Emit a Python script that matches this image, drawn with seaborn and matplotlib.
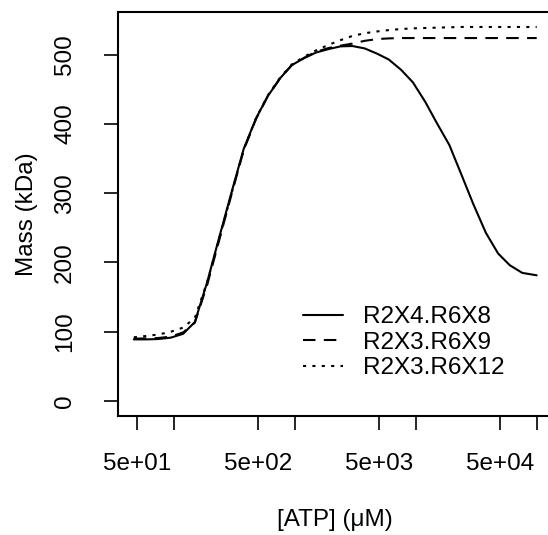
import numpy as np
import pandas as pd
import seaborn as sns
import matplotlib.pyplot as plt

# --- data ---
atp = [47, 60, 75, 95, 120, 150, 190, 240, 300, 380, 480, 600, 760, 950,
       1200, 1500, 1900, 2400, 3000, 3800, 4800, 6000, 7600, 9500, 12000,
       15000, 19000, 24000, 30000, 38000, 48000, 60000, 76000, 100000]

mass_r2x4_r6x8 = [89, 89, 89.5, 91.5, 97, 114, 172, 238, 300, 364, 408, 440,
                  466, 485, 495, 503, 508, 512, 512.5, 509, 501.5, 493, 478,
                  460, 432, 401, 369.5, 326, 284, 243, 213, 196, 185, 181.5]

mass_r2x3_r6x9 = [90, 90.5, 91, 93, 99, 113, 168, 234, 297, 362, 407, 440,
                  466, 485, 495.5, 504, 509.5, 513, 516, 520, 522.5, 523.5,
                  524, 524, 524, 524, 524, 524, 524, 524, 524, 524, 524, 524]

mass_r2x3_r6x12 = [92, 94, 96, 100, 106, 120, 172, 236, 298, 363, 408, 441,
                   467, 486, 497, 506, 514, 521, 527, 531, 533.5, 535.5, 537,
                   538, 538.5, 539, 539.5, 540, 540, 540, 540, 540, 540, 540]

series = ["R2X4.R6X8", "R2X3.R6X9", "R2X3.R6X12"]
yticks = [0, 100, 200, 300, 400, 500]
xticks = [50, 100, 500, 1000, 5000, 10000, 50000, 100000]
xticklabels = ["5e+01", "", "5e+02", "", "5e+03", "", "5e+04", ""]

df = pd.concat([
    pd.DataFrame({"atp": atp, "mass": m, "series": s})
    for s, m in zip(series, [mass_r2x4_r6x8, mass_r2x3_r6x9, mass_r2x3_r6x12])
])

sns.set_style("ticks")
plt.rcParams["font.family"] = ["Liberation Sans", "DejaVu Sans"]
plt.rcParams["text.color"] = "black"
plt.rcParams["axes.labelcolor"] = "black"

fs = 17.5

fig = plt.figure(figsize=(5.48, 5.35), dpi=100)
ax = fig.add_axes([117.7 / 548, 1 - 416 / 535, 435.1 / 548, 404 / 535])

sns.lineplot(data=df, x="atp", y="mass", style="series", style_order=series,
             dashes={series[0]: "", series[1]: (6, 4), series[2]: (1.5, 3)},
             color="black", linewidth=1.5, legend=False, ax=ax)

ax.set_xscale("log")
ax.minorticks_off()

# R-style 4% axis padding
lx0, lx1 = np.log10(min(atp)), np.log10(max(atp))
pad = 0.04 * (lx1 - lx0)
ax.set_xlim(10 ** (lx0 - pad), 10 ** (lx1 + pad))
ax.set_ylim(0 - 0.04 * 540, 540 + 0.04 * 540)

ax.set_xticks(xticks)
ax.set_xticklabels(xticklabels)
ax.set_yticks(yticks)
ax.set_yticklabels([str(v) for v in yticks], rotation=90, va="center")

ax.tick_params(axis="both", length=10, width=1.2, color="black",
               labelsize=fs, labelcolor="black")
ax.tick_params(axis="x", pad=17)
ax.tick_params(axis="y", pad=20)
for sp in ax.spines.values():
    sp.set_visible(True)
    sp.set_color("black")
    sp.set_linewidth(1.5)

ax.set_xlabel("[ATP] (μM)", fontsize=fs, va="center")
ax.set_ylabel("Mass (kDa)", fontsize=fs, va="center")
ax.xaxis.set_label_coords(0.5, (416 - 520) / 404)
ax.yaxis.set_label_coords((27 - 117.7) / 435.1, 0.5)

ax.legend(ax.get_lines()[:3], series, frameon=False, fontsize=fs,
          loc="upper left", bbox_to_anchor=((303 - 117.7) / 435.1, 0.272),
          borderpad=0, borderaxespad=0, handlelength=1.65, handletextpad=0.8,
          labelspacing=0.15)

fig.savefig("out.png", dpi=100)
